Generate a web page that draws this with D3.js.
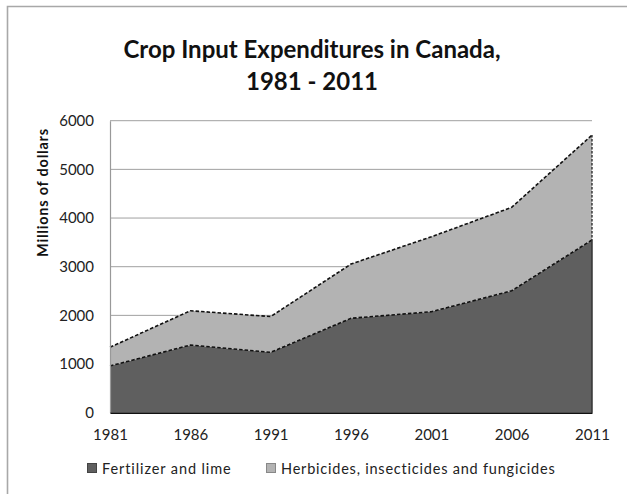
<!DOCTYPE html>
<html>
<head>
<meta charset="utf-8">
<script src="https://cdn.jsdelivr.net/npm/d3@7"></script>
<style>
  html, body { margin: 0; padding: 0; background: #fff; }
  svg { display: block; }
  text { font-family: Lato, "Open Sans", sans-serif; }
</style>
</head>
<body>
<svg id="chart" width="627" height="494"></svg>
<script>
// Crop input expenditures, millions of dollars
const years = [1981, 1986, 1991, 1996, 2001, 2006, 2011];
const fertilizer = [960, 1390, 1240, 1940, 2075, 2505, 3550];
const pesticides = [385, 705, 735, 1115, 1540, 1715, 2155];
const seriesNames = ["Fertilizer and lime", "Herbicides, insecticides and fungicides"];
const yTicks = [0, 1000, 2000, 3000, 4000, 5000, 6000];
const titleLines = ["Crop Input Expenditures in Canada,", "1981 - 2011"];
const yTitle = "Millions of dollars";

const W = 627, H = 494;
const m = { left: 110, right: 35, top: 120.7, bottom: 81.3 };
const svg = d3.select("#chart");

// stretch a text element to a given width with letter spacing
function fitWidth(sel, target) {
  const node = sel.node();
  const w = node.getComputedTextLength();
  const n = node.textContent.length;
  if (n > 1) sel.attr("letter-spacing", (target - w) / (n - 1));
}

// outer frame
svg.append("path")
  .attr("d", `M7.5,${H} V6.5 H${W}`)
  .attr("fill", "none").attr("stroke", "#a8a8a8").attr("stroke-width", 1.6);

const x = d3.scaleLinear().domain([years[0], years[years.length - 1]]).range([m.left, W - m.right]);
const y = d3.scaleLinear().domain([0, 6000]).range([H - m.bottom, m.top]);

// stacked data
const rows = years.map((yr, i) => ({ year: yr, fert: fertilizer[i], pest: pesticides[i] }));
const stack = d3.stack().keys(["fert", "pest"])(rows);

// gridlines
svg.append("g").selectAll("line").data(yTicks.filter(d => d > 0)).join("line")
  .attr("x1", m.left).attr("x2", W - m.right)
  .attr("y1", d => y(d)).attr("y2", d => y(d))
  .attr("stroke", "#a0a0a0").attr("stroke-width", 1);

const fills = ["#5f5f5f", "#b3b3b3"];
const area = d3.area().x(d => x(d.data.year)).y0(d => y(d[0])).y1(d => y(d[1]));
svg.append("g").selectAll("path").data(stack).join("path")
  .attr("d", area).attr("fill", (d, i) => fills[i]);

// top edges of each layer, dashed
const topLine = d3.line().x(d => x(d.data.year)).y(d => y(d[1]));
svg.append("g").selectAll("path").data(stack).join("path")
  .attr("d", topLine).attr("fill", "none")
  .attr("stroke", "#111").attr("stroke-width", 1.6).attr("stroke-dasharray", "3.5,2");

// right edges at the last year
const last = years.length - 1;
svg.append("line")
  .attr("x1", x(years[last])).attr("x2", x(years[last]))
  .attr("y1", y(stack[1][last][1])).attr("y2", y(stack[1][last][0]))
  .attr("stroke", "#222").attr("stroke-width", 1.3).attr("stroke-dasharray", "2.5,1.5");
svg.append("line")
  .attr("x1", x(years[last])).attr("x2", x(years[last]))
  .attr("y1", y(stack[0][last][1])).attr("y2", y(0))
  .attr("stroke", "#333").attr("stroke-width", 1.5);

// y axis (grey line, no ticks)
const yAxis = svg.append("g").attr("transform", `translate(${m.left},0)`)
  .call(d3.axisLeft(y).tickValues(yTicks).tickSize(0).tickPadding(16).tickFormat(d3.format("d")));
yAxis.select(".domain").attr("stroke", "#999").attr("stroke-width", 1.2);
yAxis.selectAll("text").attr("font-size", 15).attr("fill", "#222").attr("font-family", "Lato, sans-serif");

// x axis (black baseline)
const xAxis = svg.append("g").attr("transform", `translate(0,${y(0)})`)
  .call(d3.axisBottom(x).tickValues(years).tickSize(0).tickPadding(17).tickFormat(d3.format("d")));
xAxis.select(".domain").attr("stroke", "#111").attr("stroke-width", 1.5);
xAxis.selectAll("text").attr("font-size", 15).attr("fill", "#222").attr("font-family", "Lato, sans-serif");

// title
const title = svg.append("text").attr("text-anchor", "middle")
  .attr("font-weight", "bold").attr("font-size", 24).attr("fill", "#111");
title.selectAll("tspan").data(titleLines).join("tspan")
  .attr("x", 312).attr("y", (d, i) => 58 + i * 32).text(d => d);

// axis title
const yt = svg.append("text")
  .attr("transform", `translate(48,192.5) rotate(-90)`)
  .attr("text-anchor", "middle").attr("font-weight", "bold").attr("font-size", 14.5)
  .attr("fill", "#111").text(yTitle);
fitWidth(yt, 128);

// legend
const legendX = [87, 266];
const legendW = [129, 274];
seriesNames.forEach((name, i) => {
  const g = svg.append("g").attr("transform", `translate(${legendX[i]},463)`);
  g.append("rect").attr("x", 0.5).attr("y", 0.5).attr("width", 9).attr("height", 9)
    .attr("fill", fills[i]).attr("stroke", i === 0 ? "#444" : "#888").attr("stroke-width", 1);
  const t = g.append("text").attr("x", 15).attr("y", 10.5).attr("font-size", 14.5)
    .attr("fill", "#222").text(name);
  fitWidth(t, legendW[i]);
});
</script>
</body>
</html>
